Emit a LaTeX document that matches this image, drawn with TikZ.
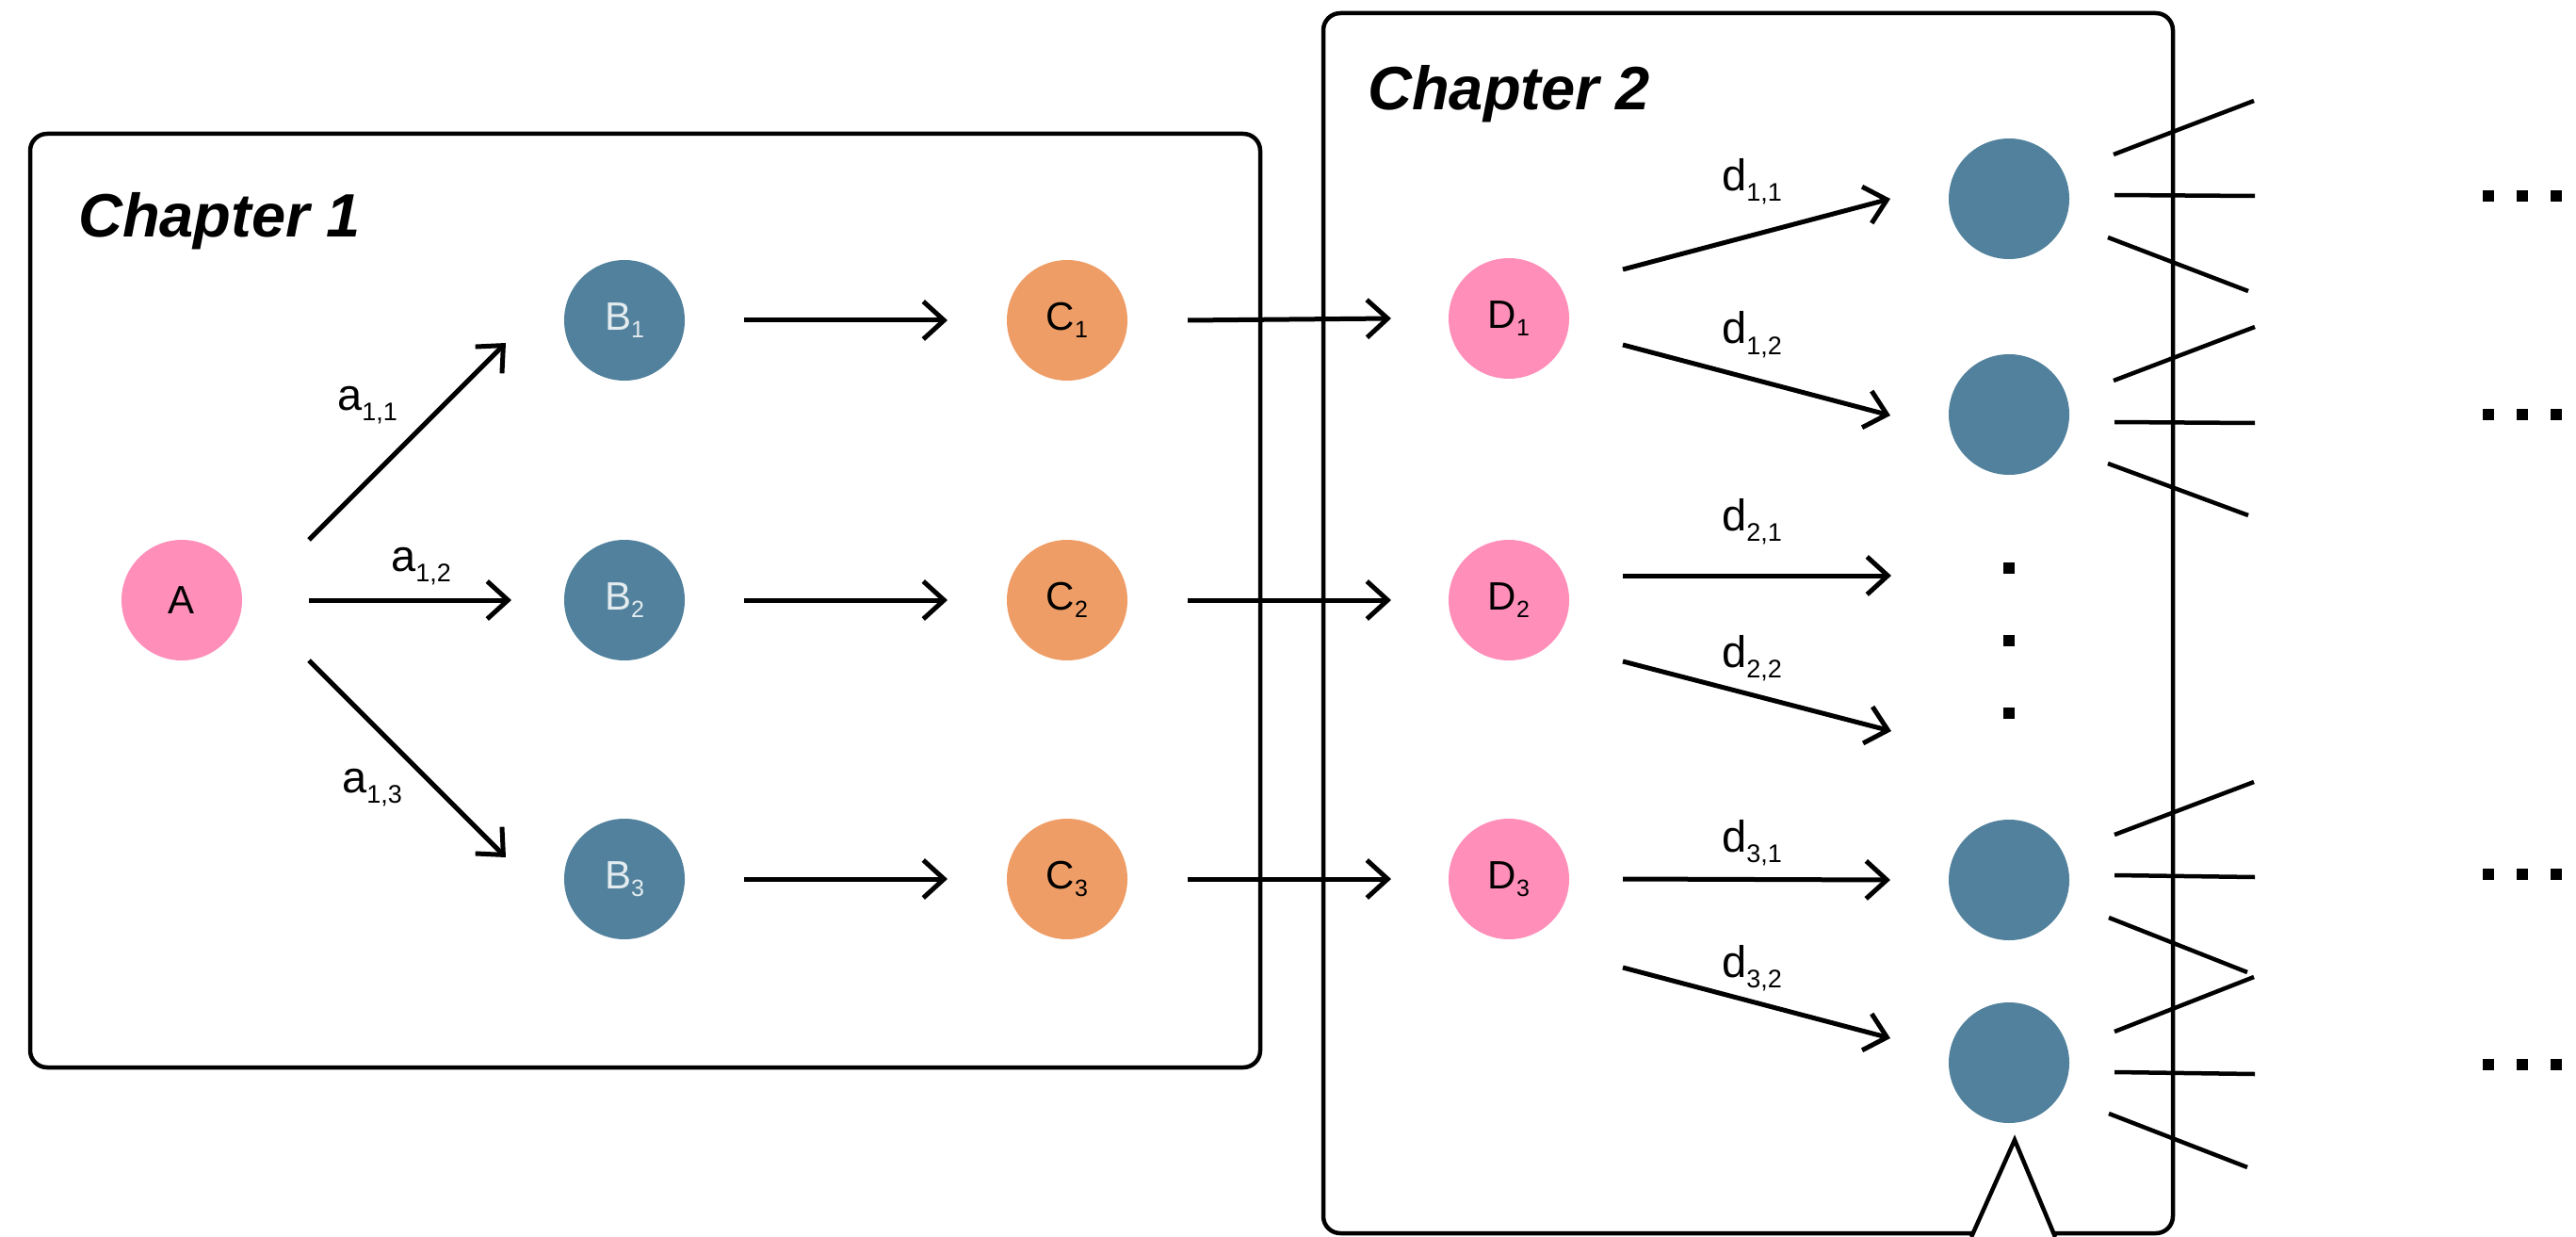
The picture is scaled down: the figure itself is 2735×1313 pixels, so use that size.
\documentclass[tikz,border=0pt]{standalone}
\usepackage{fontspec}
\setmainfont{Liberation Sans}
\usetikzlibrary{arrows.meta}
\definecolor{npink}{HTML}{FF8EB9}
\definecolor{nblue}{HTML}{51819C}
\definecolor{norange}{HTML}{EE9D66}
\definecolor{nlight}{HTML}{E4ECF0}
\newcommand\nsub[1]{\raisebox{-8pt}{\fontsize{25}{25}\selectfont #1}}
\newcommand\lsub[1]{\raisebox{-11pt}{\fontsize{27}{27}\selectfont #1}}
\begin{document}
\begin{tikzpicture}[x=1pt,y=-1pt,
  circnode/.style={circle,minimum size=128pt,inner sep=0pt,font=\fontsize{42}{42}\selectfont},
  pinknode/.style={circnode,fill=npink,text=black},
  bluenode/.style={circnode,fill=nblue,text=nlight},
  orangenode/.style={circnode,fill=norange,text=black},
  arr/.style={line width=5pt,-{Straight Barb[length=22pt,width=40pt]}},
  lab/.style={anchor=base west,inner sep=0pt,font=\fontsize{47}{47}\selectfont},
  chap/.style={line width=4.5pt,rounded corners=18pt},
  ttl/.style={anchor=base west,inner sep=0pt,font=\fontsize{65}{65}\selectfont\bfseries\itshape},
  sq/.style={fill=black,minimum size=12pt,inner sep=0pt},
  ray/.style={line width=4.5pt}
]
\fill[white] (0,0) rectangle (2735,1313);
\useasboundingbox (0,0) rectangle (2735,1313);

% chapter boxes
\draw[chap] (32,142) rectangle (1338,1133);
\draw[chap] (1405,14) rectangle (2307,1309);
\node[ttl] (t1) at (83,252) {Chapter 1};
\node[ttl] (t2) at (1452,117) {Chapter 2};

% nodes
\node[pinknode] (A) at (193,637) {A};
\node[bluenode] (B1) at (663,340) {B\nsub{1}};
\node[bluenode] (B2) at (663,637) {B\nsub{2}};
\node[bluenode] (B3) at (663,933) {B\nsub{3}};
\node[orangenode] (C1) at (1133,340) {C\nsub{1}};
\node[orangenode] (C2) at (1133,637) {C\nsub{2}};
\node[orangenode] (C3) at (1133,933) {C\nsub{3}};
\node[pinknode] (D1) at (1602,338) {D\nsub{1}};
\node[pinknode] (D2) at (1602,637) {D\nsub{2}};
\node[pinknode] (D3) at (1602,933) {D\nsub{3}};
\node[bluenode] (E1) at (2133,211) {};
\node[bluenode] (E2) at (2133,440) {};
\node[bluenode] (E3) at (2133,934) {};
\node[bluenode] (E4) at (2133,1128) {};

% vertical dots
\node[sq] (v1) at (2133,603) {};
\node[sq] (v2) at (2133,680) {};
\node[sq] (v3) at (2133,757) {};

% arrows A -> B
\draw[arr] ([shift={(135,-64)}]A.center) -- ([shift={(-126,24)}]B1.center);
\draw[arr] ([shift={(135,0)}]A.center) -- ([shift={(-120,0)}]B2.center);
\draw[arr] ([shift={(135,64)}]A.center) -- ([shift={(-126,-23)}]B3.center);
% B -> C
\draw[arr] ([shift={(127,0)}]B1.center) -- ([shift={(-127,0)}]C1.center);
\draw[arr] ([shift={(127,0)}]B2.center) -- ([shift={(-127,0)}]C2.center);
\draw[arr] ([shift={(127,0)}]B3.center) -- ([shift={(-127,0)}]C3.center);
% C -> D
\draw[arr] ([shift={(128,0)}]C1.center) -- ([shift={(-125,0)}]D1.center);
\draw[arr] ([shift={(128,0)}]C2.center) -- ([shift={(-125,0)}]D2.center);
\draw[arr] ([shift={(128,0)}]C3.center) -- ([shift={(-125,0)}]D3.center);
% D -> E
\draw[arr] ([shift={(121,-52)}]D1.center) -- ([shift={(-126,0)}]E1.center);
\draw[arr] ([shift={(121,28)}]D1.center) -- ([shift={(-126,1)}]E2.center);
\draw[arr] ([shift={(121,-26)}]D2.center) -- ([shift={(-125,8)}]v1.center);
\draw[arr] ([shift={(121,65)}]D2.center) -- ([shift={(-125,19)}]v3.center);
\draw[arr] ([shift={(121,0)}]D3.center) -- ([shift={(-126,0)}]E3.center);
\draw[arr] ([shift={(121,94)}]D3.center) -- ([shift={(-126,-26)}]E4.center);

% labels
\node[lab] (la11) at (358,435) {a\lsub{1,1}};
\node[lab] (la12) at (415,606) {a\lsub{1,2}};
\node[lab] (la13) at (363,841) {a\lsub{1,3}};
\node[lab] (ld11) at (1828,203) {d\lsub{1,1}};
\node[lab] (ld12) at (1828,365) {d\lsub{1,2}};
\node[lab] (ld21) at (1828,563) {d\lsub{2,1}};
\node[lab] (ld22) at (1828,708) {d\lsub{2,2}};
\node[lab] (ld31) at (1828,904) {d\lsub{3,1}};
\node[lab] (ld32) at (1828,1037) {d\lsub{3,2}};

% rays out of E nodes
\draw[ray] ([shift={(111,-47)}]E1.center) -- ++(149,-57);
\draw[ray] ([shift={(112,-4)}]E1.center) -- ++(149,1);
\draw[ray] ([shift={(105,41)}]E1.center) -- ++(149,57);
\draw[ray] ([shift={(111,-36)}]E2.center) -- ++(150,-57);
\draw[ray] ([shift={(112,8)}]E2.center) -- ++(149,1);
\draw[ray] ([shift={(105,52)}]E2.center) -- ++(149,55);
\draw[ray] ([shift={(112,-48)}]E3.center) -- ++(148,-56);
\draw[ray] ([shift={(112,-5)}]E3.center) -- ++(149,2);
\draw[ray] ([shift={(106,40)}]E3.center) -- ++(147,58);
\draw[ray] ([shift={(112,-33)}]E4.center) -- ++(148,-58);
\draw[ray] ([shift={(112,10)}]E4.center) -- ++(149,2);
\draw[ray] ([shift={(106,54)}]E4.center) -- ++(147,57);

% triangle below E4
\fill[white] (2093,1313) -- (2139,1210) -- (2182,1313) -- cycle;
\draw[ray] (2093,1313) -- (2139,1210) -- (2182,1313);

% horizontal ellipses
\foreach \yy/\nm in {208/h1,440/h2,928/h3,1130/h4}{
  \node[sq] (\nm a) at (2642,\yy) {};
  \node[sq] (\nm b) at (2678,\yy) {};
  \node[sq] (\nm c) at (2714,\yy) {};
}
\end{tikzpicture}
\end{document}
